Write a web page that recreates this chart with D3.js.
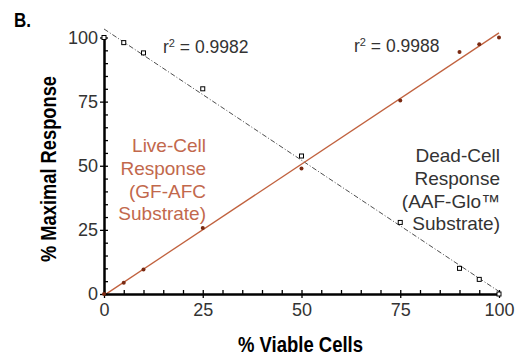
<!DOCTYPE html>
<html>
<head>
<meta charset="utf-8">
<script src="https://cdn.jsdelivr.net/npm/d3@7"></script>
<style>
  body { margin: 0; background: #fff; }
  svg text { font-family: "Liberation Sans", Arial, sans-serif; }
  .lbl { font-weight: bold; }
</style>
</head>
<body>
<svg width="523" height="356"></svg>
<script>
// % viable cells
var viable = [0, 5, 10, 25, 50, 75, 90, 95, 100];
// live-cell (GF-AFC) response, % of max
var liveResp = [0, 4.4, 9.6, 25.7, 48.9, 75.4, 94.3, 97.4, 100];
// dead-cell (AAF-Glo) response, % of max
var deadResp = [100, 98, 94, 80, 53.8, 27.9, 10, 5.7, 0];
var majorTicks = [0, 25, 50, 75, 100];
var liveLabel = ["Live-Cell", "Response", "(GF-AFC", "Substrate)"];
var deadLabel = ["Dead-Cell", "Response", "(AAF-Glo\u2122", "Substrate)"];
var liveR2 = "0.9988", deadR2 = "0.9982";

var svg = d3.select("svg");
var x = d3.scaleLinear().domain([0, 100]).range([104, 499]);
var y = d3.scaleLinear().domain([0, 100]).range([294, 37.5]);
var red = "#c1623f";
var ink = "#333";

// least squares fit
function fit(xs, ys) {
    var mx = d3.mean(xs), my = d3.mean(ys), sxy = 0, sxx = 0;
    xs.forEach(function (v, i) {
        sxy += (v - mx) * (ys[i] - my);
        sxx += (v - mx) * (v - mx);
    });
    var b = sxy / sxx;
    return function (v) { return my + b * (v - mx); };
}

var fLive = fit(viable, liveResp), fDead = fit(viable, deadResp);

svg.append("line")
    .attr("x1", x(0)).attr("y1", y(fDead(0)))
    .attr("x2", x(100)).attr("y2", y(fDead(100)))
    .attr("stroke", "#222").attr("stroke-width", 0.8)
    .attr("stroke-dasharray", "5,2,1,2");

svg.append("line")
    .attr("x1", x(0)).attr("y1", y(fLive(0)))
    .attr("x2", x(100)).attr("y2", y(fLive(100)))
    .attr("stroke", red).attr("stroke-width", 1.3);

// axes: minor ticks inward, major ticks crossing
function styleAxis(g) {
    g.selectAll("path").attr("stroke", "#000").attr("stroke-width", 2);
    g.selectAll("line").attr("stroke", "#000").attr("stroke-width", 1.3);
    g.selectAll("text").attr("font-size", 18).attr("fill", ink)
        .attr("font-family", "Liberation Sans, Arial, sans-serif");
}
svg.append("g").attr("transform", "translate(0,294)")
    .call(d3.axisBottom(x).tickValues(d3.range(0, 101, 5)).tickSize(-4).tickSizeOuter(0).tickFormat(""))
    .call(styleAxis);
svg.append("g").attr("transform", "translate(0,294)")
    .call(d3.axisBottom(x).tickValues(majorTicks).tickSize(4).tickPadding(5).tickSizeOuter(0))
    .call(styleAxis);
svg.append("g").attr("transform", "translate(104,0)")
    .call(d3.axisLeft(y).tickValues(d3.range(0, 101, 5)).tickSize(-4).tickSizeOuter(0).tickFormat(""))
    .call(styleAxis);
svg.append("g").attr("transform", "translate(104,0)")
    .call(d3.axisLeft(y).tickValues(majorTicks).tickSize(4).tickPadding(2).tickSizeOuter(0))
    .call(styleAxis);

// points
svg.selectAll(".dead").data(viable).enter().append("rect")
    .attr("x", function (d) { return x(d) - 2; })
    .attr("y", function (d, i) { return y(deadResp[i]) - 2; })
    .attr("width", 4).attr("height", 4)
    .attr("fill", "#fff").attr("stroke", "#000").attr("stroke-width", 1);

svg.selectAll(".live").data(viable).enter().append("circle")
    .attr("cx", function (d) { return x(d); })
    .attr("cy", function (d, i) { return y(liveResp[i]); })
    .attr("r", 2).attr("fill", "#7a2a12");

// annotations
function r2(tx, ty, val) {
    var t = svg.append("text").attr("x", tx).attr("y", ty).attr("font-size", 17.5).attr("fill", ink);
    t.append("tspan").text("r");
    t.append("tspan").attr("dy", -6).attr("font-size", 11).text("2");
    t.append("tspan").attr("dy", 6).text(" = " + val);
}
r2(163, 53, deadR2);
r2(354, 52, liveR2);

function block(lines, tx, ty, color) {
    svg.append("g").selectAll("text").data(lines).enter().append("text")
        .attr("x", tx).attr("y", function (d, i) { return ty + i * 22.8; })
        .attr("text-anchor", "end").attr("font-size", 19).attr("fill", color)
        .text(function (d) { return d; });
}
block(liveLabel, 206, 152, "#c2684c");
block(deadLabel, 500, 162, ink);

// bold condensed labels
svg.append("text").attr("class", "lbl").attr("x", 14).attr("y", 27)
    .attr("font-size", 20).attr("textLength", 17).attr("lengthAdjust", "spacingAndGlyphs").text("B.");
svg.append("text").attr("class", "lbl").attr("x", 238).attr("y", 352)
    .attr("font-size", 21.5).attr("textLength", 125).attr("lengthAdjust", "spacingAndGlyphs")
    .text("% Viable Cells");
svg.append("text").attr("class", "lbl").attr("transform", "translate(56,262) rotate(-90)")
    .attr("font-size", 21.5).attr("textLength", 186).attr("lengthAdjust", "spacingAndGlyphs")
    .text("% Maximal Response");
</script>
</body>
</html>
